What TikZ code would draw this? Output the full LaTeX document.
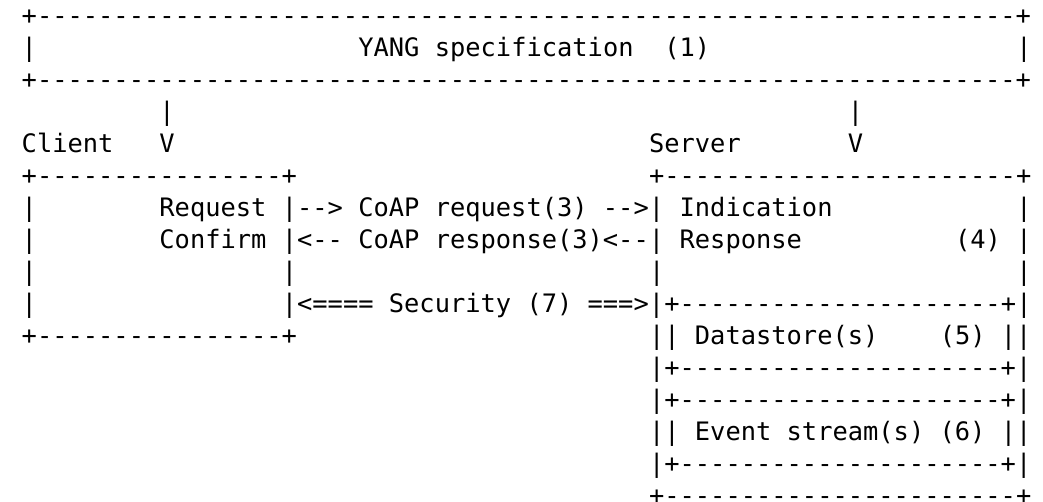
\documentclass[tikz,border=0pt]{standalone}
\usepackage{fontspec}
\setmonofont{DejaVu Sans Mono}
\usepackage{tikz}

% n copies of a character
\newcommand{\rep}[2]{\foreach \k in {1,...,#1}{#2}}

\begin{document}
\begin{tikzpicture}
[x=7.65pt,y=-16pt]
\tikzset{txt/.style={anchor=base west,inner sep=0pt,font=\ttfamily\fontsize{12.7}{16}\selectfont}}
\useasboundingbox (-1.395,-0.781) rectangle (66.775,14.906);

% YANG specification
\node [txt] (ytop) at (0,0) {+\rep{64}{-}+};
\node [txt] (yl) at (0,1) {|};
\node [txt] (yang) at (22,1) {YANG specification};
\node [txt] (y1) at (42,1) {(1)};
\node [txt] (yr) at (65,1) {|};
\node [txt] (ybot) at (0,2) {+\rep{64}{-}+};

\node [txt] (cbar) at (9,3) {|};
\node [txt] (sbar) at (54,3) {|};
\node [txt] (client) at (0,4) {Client};
\node [txt] (cv) at (9,4) {V};
\node [txt] (server) at (41,4) {Server};
\node [txt] (sv) at (54,4) {V};

% client box
\node [txt] (ctop) at (0,5) {+\rep{16}{-}+};
\node [txt] (req) at (9,6) {Request};
\node [txt] (conf) at (9,7) {Confirm};
\node [txt] (cbot) at (0,10) {+\rep{16}{-}+};
\foreach \r in {6,...,9}
	\node [txt] (cl\r) at (0,\r) {|};
\node [txt] (cr8) at (17,8) {|};

% messages between the boxes
\node [txt] (coapreq) at (17,6) {|--> CoAP request(3) -->|};
\node [txt] (coapresp) at (17,7) {|<-- CoAP response(3)<--|};
\node [txt] (security) at (17,9) {|<==== Security (7) ===>|};

% server box
\node [txt] (stop) at (41,5) {+\rep{23}{-}+};
\node [txt] (ind) at (43,6) {Indication};
\node [txt] (resp) at (43,7) {Response};
\node [txt] (s4) at (61,7) {(4)};
\node [txt] (sl8) at (41,8) {|};
\foreach \r in {6,...,9}
	\node [txt] (sr\r) at (65,\r) {|};
\node [txt] (dtop) at (42,9) {+\rep{21}{-}+};
\node [txt] (dl) at (41,10) {||};
\node [txt] (dstore) at (44,10) {Datastore(s)};
\node [txt] (d5) at (60,10) {(5)};
\node [txt] (dr) at (64,10) {||};
\node [txt] (dbot) at (41,11) {|+\rep{21}{-}+|};
\node [txt] (etop) at (41,12) {|+\rep{21}{-}+|};
\node [txt] (el) at (41,13) {||};
\node [txt] (events) at (44,13) {Event stream(s) (6)};
\node [txt] (er) at (64,13) {||};
\node [txt] (ebot) at (41,14) {|+\rep{21}{-}+|};
\node [txt] (sbot) at (41,15) {+\rep{23}{-}+};
\end{tikzpicture}
\end{document}
